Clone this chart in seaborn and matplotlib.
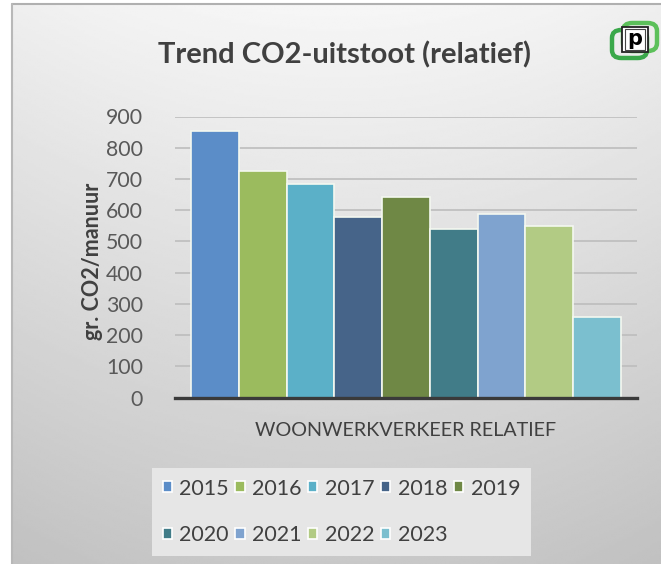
import numpy as np
import pandas as pd
import matplotlib
matplotlib.use("Agg")
import matplotlib.pyplot as plt
import seaborn as sns
from matplotlib.patches import FancyBboxPatch, Rectangle

# ---- data ----
years = ["2015", "2016", "2017", "2018", "2019", "2020", "2021", "2022", "2023"]
values = [852, 724, 684, 577, 643, 540, 589, 549, 257]
category = "WOONWERKVERKEER RELATIEF"
colors = ["#5B8DC8", "#9BBB5E", "#5BB0C8", "#466489", "#6F8845",
          "#417C88", "#7FA3CF", "#B2CB84", "#7BBFCF"]
yticks = [0, 100, 200, 300, 400, 500, 600, 700, 800, 900]
title = "Trend CO2-uitstoot (relatief)"
ylabel = "gr. CO2/manuur"

df = pd.DataFrame({"cat": [category] * len(years), "year": years, "value": values})

sns.set_style("white")
plt.rcParams["font.family"] = ["Lato", "DejaVu Sans"]

W, H = 661, 564
fig = plt.figure(figsize=(W / 100, H / 100), dpi=100)
fig.patch.set_facecolor("white")

# background gradient panel
bg = fig.add_axes([12 / W, 0, 1 - 12 / W, 1 - 4 / H], zorder=-10)
grad = np.linspace(0, 1, 256)[:, None]
xs = np.linspace(-1, 1, 256)[None, :]
img = 0.965 - 0.18 * grad - 0.03 * xs ** 2
bg.imshow(img, cmap="gray", vmin=0, vmax=1, aspect="auto", extent=[0, 1, 0, 1],
          origin="upper", interpolation="bilinear")
bg.set_xlim(0, 1); bg.set_ylim(0, 1)
bg.axis("off")
# border lines
fig.add_artist(plt.Line2D([12 / W, 1], [1 - 4 / H, 1 - 4 / H], color="#b0b0b0", lw=1.5))
fig.add_artist(plt.Line2D([12 / W, 12 / W], [0, 1 - 4 / H], color="#b8b8b8", lw=1.5))

# main axes
ax_l, ax_r, ax_t, ax_b = 175, 637, 116.5, 397.5
ax = fig.add_axes([ax_l / W, 1 - ax_b / H, (ax_r - ax_l) / W, (ax_b - ax_t) / H])
ax.set_facecolor("none")

sns.barplot(data=df, x="cat", y="value", hue="year", palette=colors,
            width=0.929, edgecolor="#f4f8f0", linewidth=1.2, saturation=1,
            ax=ax, zorder=3)

ax.set_ylim(0, 900)
ax.set_xlim(-0.5, 0.5)
ax.set_yticks(yticks)
ax.set_yticklabels([str(v) for v in yticks])
ax.grid(axis="y", color="#bdbdbd", lw=1.2, zorder=0)
ax.grid(axis="x", visible=False)
ax.set_axisbelow(True)
for s in ["top", "right", "left"]:
    ax.spines[s].set_visible(False)
ax.spines["bottom"].set_color("#3a3a3a")
ax.spines["bottom"].set_linewidth(2.4)
ax.spines["bottom"].set_zorder(5)
ax.tick_params(axis="y", length=0, pad=23, labelsize=15.3, labelcolor="#595959")
ax.tick_params(axis="x", length=0, pad=18, labelsize=14.2, labelcolor="#404040")
ax.set_xlabel("")
ax.set_ylabel("")

# legend
handles, labels = ax.get_legend_handles_labels()
if ax.get_legend() is not None:
    ax.get_legend().remove()
order = [0, 5, 1, 6, 2, 7, 3, 8, 4]
leg = fig.legend([handles[i] for i in order], [labels[i] for i in order],
                 ncol=5, loc="center",
                 bbox_to_anchor=((153 + 530) / 2 / W, 1 - 512 / H),
                 fontsize=15.5, frameon=True, fancybox=False,
                 facecolor="#e6e6e6", edgecolor="none", framealpha=1,
                 handlelength=0.42, handleheight=0.42, handletextpad=0.36,
                 columnspacing=0.3, labelspacing=1.25, borderpad=0.5)
for t in leg.get_texts():
    t.set_color("#404040")
for h in leg.legend_handles:
    h.set_edgecolor("white")

# title and y label
fig.text(344 / W, 1 - 55 / H, title, ha="center", va="center", fontsize=21,
         fontweight="bold", color="#404040")
fig.text(93 / W, 1 - 261 / H, ylabel, ha="center", va="center", rotation=90,
         fontsize=15.5, fontweight="bold", color="#404040")

# logo (decorative)
def box(x0, y0, x1, y1, **kw):
    return FancyBboxPatch((x0 / W, 1 - y1 / H), (x1 - x0) / W, (y1 - y0) / H,
                          transform=fig.transFigure, **kw)
fig.add_artist(box(612, 30, 647, 58, boxstyle="round,pad=0,rounding_size=0.014",
                   fill=False, edgecolor="#3aa84a", lw=3.2))
fig.add_artist(box(623, 23, 657, 51, boxstyle="round,pad=0,rounding_size=0.014",
                   fill=False, edgecolor="#5cc05a", lw=3.2))
fig.add_artist(Rectangle((622 / W, 1 - 52 / H), 26 / W, 25 / H, transform=fig.transFigure,
                         facecolor="white", edgecolor="#222222", lw=1.3))
fig.add_artist(Rectangle((625 / W, 1 - 49.5 / H), 20 / W, 20 / H, transform=fig.transFigure,
                         facecolor="white", edgecolor="#444444", lw=0.8))
fig.text(635 / W, 1 - 39 / H, "p", ha="center", va="center", fontsize=15,
         fontweight="bold", color="black", family=["DejaVu Sans"])

fig.savefig("out.png", dpi=100)
